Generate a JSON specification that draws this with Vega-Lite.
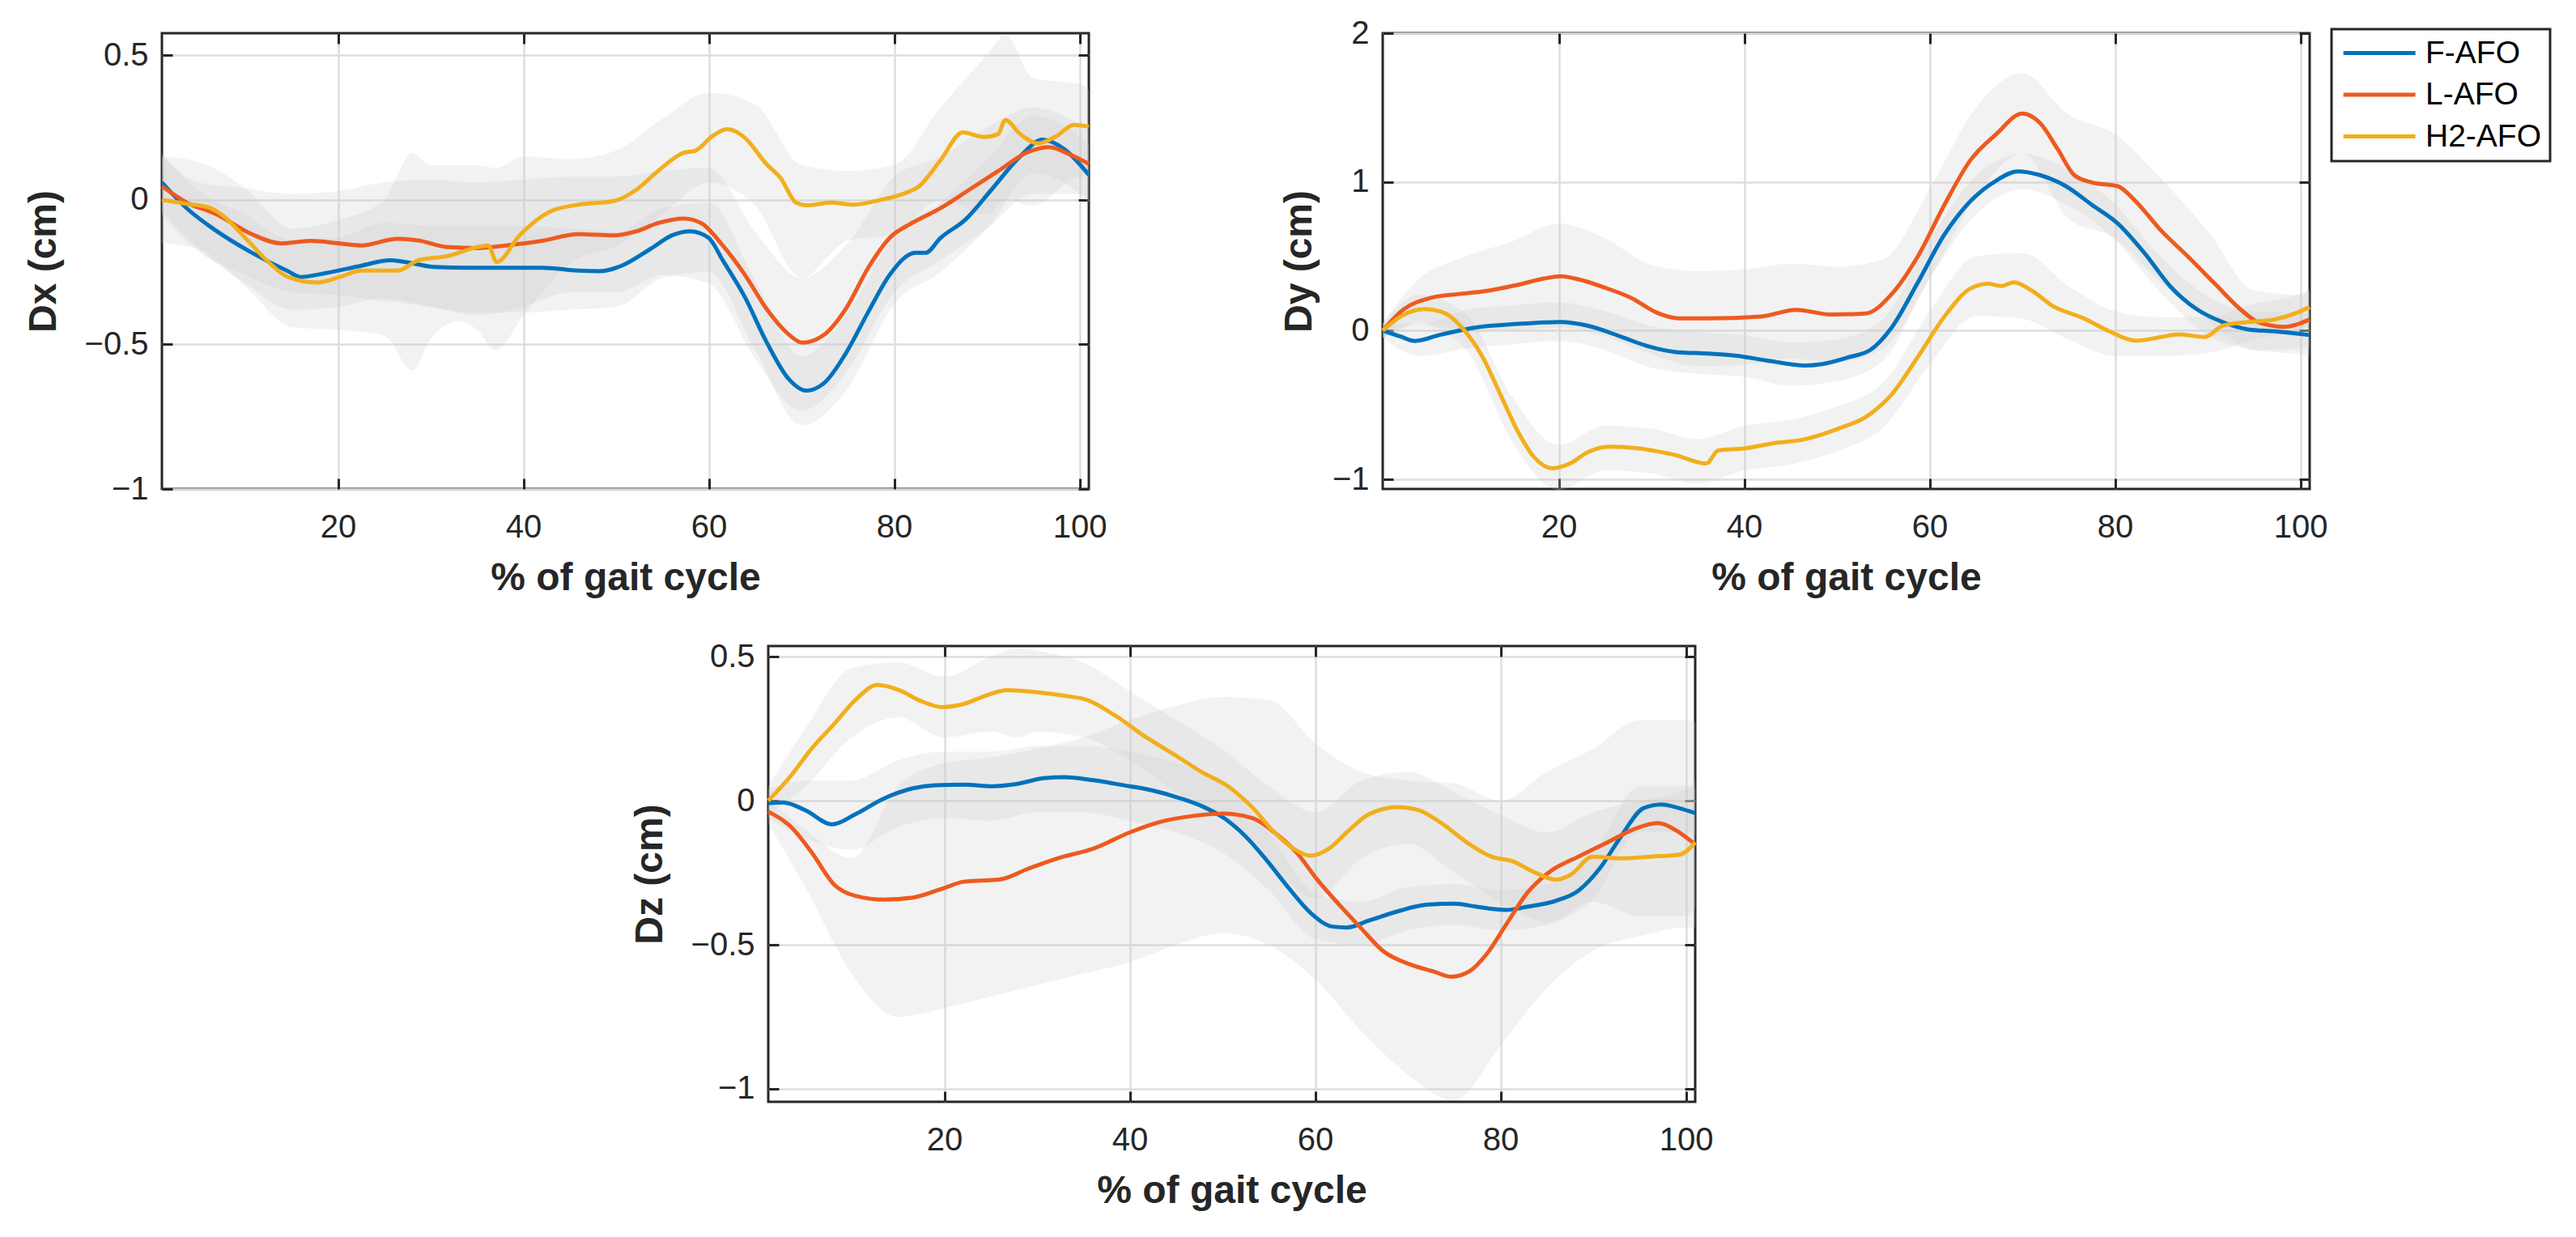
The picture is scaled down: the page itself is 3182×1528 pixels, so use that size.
{
  "$schema": "https://vega.github.io/schema/vega-lite/v6.json",
  "background": "white",
  "autosize": {"type": "none"},
  "padding": {"left": 200, "top": 41, "right": 2982, "bottom": 1487},
  "config": {
    "view": {"stroke": "#262626", "strokeWidth": 3},
    "axis": {
      "domain": false,
      "labelFont": "Liberation Sans", "labelFontSize": 40, "labelColor": "#262626",
      "titleFont": "Liberation Sans", "titleFontSize": 48, "titleFontWeight": "bold", "titleColor": "#262626",
      "tickColor": "#262626", "tickWidth": 3, "tickSize": -13,
      "gridColor": "#dedede", "gridWidth": 2.5, "gridOpacity": 1,
      "labelFlush": false, "labelOverlap": false, "format": "~r"
    },
    "axisX": {"labelPadding": 40},
    "axisY": {"labelPadding": 30},
    "legend": {"strokeWidth": 3},
    "line": {"strokeWidth": 5, "interpolate": "monotone", "clip": true},
    "area": {"interpolate": "monotone", "clip": true, "fill": "#cccccc", "fillOpacity": 0.25}
  },
  "datasets": {
    "lines": [
      {"p":"Dx","g":"F-AFO","x":1,"y":0.06},{"p":"Dx","g":"F-AFO","x":3.7,"y":-0.03},{"p":"Dx","g":"F-AFO","x":6.8,"y":-0.106},{"p":"Dx","g":"F-AFO","x":10.7,"y":-0.183},{"p":"Dx","g":"F-AFO","x":14.6,"y":-0.247},{"p":"Dx","g":"F-AFO","x":16,"y":-0.267},{"p":"Dx","g":"F-AFO","x":18.6,"y":-0.254},{"p":"Dx","g":"F-AFO","x":22.5,"y":-0.228},{"p":"Dx","g":"F-AFO","x":25.6,"y":-0.209},{"p":"Dx","g":"F-AFO","x":27.2,"y":-0.215},{"p":"Dx","g":"F-AFO","x":30.3,"y":-0.232},{"p":"Dx","g":"F-AFO","x":34.2,"y":-0.235},{"p":"Dx","g":"F-AFO","x":38.1,"y":-0.235},{"p":"Dx","g":"F-AFO","x":42,"y":-0.235},{"p":"Dx","g":"F-AFO","x":45.9,"y":-0.245},{"p":"Dx","g":"F-AFO","x":48.3,"y":-0.247},{"p":"Dx","g":"F-AFO","x":50.6,"y":-0.228},{"p":"Dx","g":"F-AFO","x":53.7,"y":-0.17},{"p":"Dx","g":"F-AFO","x":56.1,"y":-0.122},{"p":"Dx","g":"F-AFO","x":58,"y":-0.109},{"p":"Dx","g":"F-AFO","x":60,"y":-0.132},{"p":"Dx","g":"F-AFO","x":61.5,"y":-0.209},{"p":"Dx","g":"F-AFO","x":63.9,"y":-0.337},{"p":"Dx","g":"F-AFO","x":66.2,"y":-0.49},{"p":"Dx","g":"F-AFO","x":68.6,"y":-0.619},{"p":"Dx","g":"F-AFO","x":70.5,"y":-0.66},{"p":"Dx","g":"F-AFO","x":72.5,"y":-0.632},{"p":"Dx","g":"F-AFO","x":74.8,"y":-0.53},{"p":"Dx","g":"F-AFO","x":77.2,"y":-0.388},{"p":"Dx","g":"F-AFO","x":79.5,"y":-0.26},{"p":"Dx","g":"F-AFO","x":82.3,"y":-0.183},{"p":"Dx","g":"F-AFO","x":83.4,"y":-0.183},{"p":"Dx","g":"F-AFO","x":85,"y":-0.132},{"p":"Dx","g":"F-AFO","x":87.7,"y":-0.068},{"p":"Dx","g":"F-AFO","x":90.5,"y":0.035},{"p":"Dx","g":"F-AFO","x":93.6,"y":0.15},{"p":"Dx","g":"F-AFO","x":96,"y":0.208},{"p":"Dx","g":"F-AFO","x":98.3,"y":0.176},{"p":"Dx","g":"F-AFO","x":101,"y":0.086},
      {"p":"Dx","g":"L-AFO","x":1,"y":0.047},{"p":"Dx","g":"L-AFO","x":3.7,"y":-0.01},{"p":"Dx","g":"L-AFO","x":6.8,"y":-0.049},{"p":"Dx","g":"L-AFO","x":10.7,"y":-0.119},{"p":"Dx","g":"L-AFO","x":13.9,"y":-0.151},{"p":"Dx","g":"L-AFO","x":17,"y":-0.142},{"p":"Dx","g":"L-AFO","x":20.2,"y":-0.151},{"p":"Dx","g":"L-AFO","x":22.5,"y":-0.158},{"p":"Dx","g":"L-AFO","x":26.4,"y":-0.135},{"p":"Dx","g":"L-AFO","x":28.7,"y":-0.141},{"p":"Dx","g":"L-AFO","x":31.9,"y":-0.164},{"p":"Dx","g":"L-AFO","x":35,"y":-0.167},{"p":"Dx","g":"L-AFO","x":38.1,"y":-0.158},{"p":"Dx","g":"L-AFO","x":42,"y":-0.142},{"p":"Dx","g":"L-AFO","x":45.9,"y":-0.119},{"p":"Dx","g":"L-AFO","x":49.8,"y":-0.123},{"p":"Dx","g":"L-AFO","x":52.2,"y":-0.109},{"p":"Dx","g":"L-AFO","x":54.5,"y":-0.081},{"p":"Dx","g":"L-AFO","x":57.3,"y":-0.065},{"p":"Dx","g":"L-AFO","x":59.2,"y":-0.081},{"p":"Dx","g":"L-AFO","x":61.5,"y":-0.158},{"p":"Dx","g":"L-AFO","x":63.9,"y":-0.26},{"p":"Dx","g":"L-AFO","x":66.2,"y":-0.376},{"p":"Dx","g":"L-AFO","x":68.6,"y":-0.465},{"p":"Dx","g":"L-AFO","x":70.1,"y":-0.494},{"p":"Dx","g":"L-AFO","x":72.5,"y":-0.465},{"p":"Dx","g":"L-AFO","x":74.8,"y":-0.376},{"p":"Dx","g":"L-AFO","x":77.2,"y":-0.235},{"p":"Dx","g":"L-AFO","x":79.5,"y":-0.132},{"p":"Dx","g":"L-AFO","x":81.9,"y":-0.081},{"p":"Dx","g":"L-AFO","x":85,"y":-0.029},{"p":"Dx","g":"L-AFO","x":88.1,"y":0.035},{"p":"Dx","g":"L-AFO","x":91.2,"y":0.099},{"p":"Dx","g":"L-AFO","x":94.3,"y":0.163},{"p":"Dx","g":"L-AFO","x":96.7,"y":0.182},{"p":"Dx","g":"L-AFO","x":99,"y":0.156},{"p":"Dx","g":"L-AFO","x":101,"y":0.124},
      {"p":"Dx","g":"H2-AFO","x":1,"y":0},{"p":"Dx","g":"H2-AFO","x":3.7,"y":-0.014},{"p":"Dx","g":"H2-AFO","x":6.1,"y":-0.027},{"p":"Dx","g":"H2-AFO","x":7.6,"y":-0.055},{"p":"Dx","g":"H2-AFO","x":10,"y":-0.132},{"p":"Dx","g":"H2-AFO","x":12.3,"y":-0.209},{"p":"Dx","g":"H2-AFO","x":14.6,"y":-0.267},{"p":"Dx","g":"H2-AFO","x":17.8,"y":-0.286},{"p":"Dx","g":"H2-AFO","x":20.2,"y":-0.267},{"p":"Dx","g":"H2-AFO","x":22.5,"y":-0.245},{"p":"Dx","g":"H2-AFO","x":26.4,"y":-0.245},{"p":"Dx","g":"H2-AFO","x":28.7,"y":-0.209},{"p":"Dx","g":"H2-AFO","x":31.9,"y":-0.194},{"p":"Dx","g":"H2-AFO","x":35,"y":-0.164},{"p":"Dx","g":"H2-AFO","x":36.2,"y":-0.158},{"p":"Dx","g":"H2-AFO","x":37.1,"y":-0.215},{"p":"Dx","g":"H2-AFO","x":39.7,"y":-0.119},{"p":"Dx","g":"H2-AFO","x":42.8,"y":-0.042},{"p":"Dx","g":"H2-AFO","x":45.9,"y":-0.017},{"p":"Dx","g":"H2-AFO","x":49.8,"y":-0.004},{"p":"Dx","g":"H2-AFO","x":52.2,"y":0.035},{"p":"Dx","g":"H2-AFO","x":54.5,"y":0.099},{"p":"Dx","g":"H2-AFO","x":57.3,"y":0.163},{"p":"Dx","g":"H2-AFO","x":58.5,"y":0.169},{"p":"Dx","g":"H2-AFO","x":60.4,"y":0.22},{"p":"Dx","g":"H2-AFO","x":62,"y":0.244},{"p":"Dx","g":"H2-AFO","x":63.9,"y":0.214},{"p":"Dx","g":"H2-AFO","x":66.2,"y":0.124},{"p":"Dx","g":"H2-AFO","x":67.8,"y":0.073},{"p":"Dx","g":"H2-AFO","x":69.4,"y":-0.01},{"p":"Dx","g":"H2-AFO","x":70.5,"y":-0.019},{"p":"Dx","g":"H2-AFO","x":73.2,"y":-0.01},{"p":"Dx","g":"H2-AFO","x":75.6,"y":-0.017},{"p":"Dx","g":"H2-AFO","x":78,"y":-0.004},{"p":"Dx","g":"H2-AFO","x":81.1,"y":0.022},{"p":"Dx","g":"H2-AFO","x":82.7,"y":0.047},{"p":"Dx","g":"H2-AFO","x":85,"y":0.137},{"p":"Dx","g":"H2-AFO","x":87.4,"y":0.233},{"p":"Dx","g":"H2-AFO","x":89.7,"y":0.217},{"p":"Dx","g":"H2-AFO","x":91.2,"y":0.227},{"p":"Dx","g":"H2-AFO","x":92,"y":0.276},{"p":"Dx","g":"H2-AFO","x":93.6,"y":0.227},{"p":"Dx","g":"H2-AFO","x":95.5,"y":0.195},{"p":"Dx","g":"H2-AFO","x":97.5,"y":0.22},{"p":"Dx","g":"H2-AFO","x":99.4,"y":0.259},{"p":"Dx","g":"H2-AFO","x":101,"y":0.253},
      {"p":"Dy","g":"F-AFO","x":1,"y":0},{"p":"Dy","g":"F-AFO","x":2.9,"y":-0.04},{"p":"Dy","g":"F-AFO","x":4.5,"y":-0.07},{"p":"Dy","g":"F-AFO","x":7.1,"y":-0.03},{"p":"Dy","g":"F-AFO","x":10.9,"y":0.02},{"p":"Dy","g":"F-AFO","x":15.6,"y":0.045},{"p":"Dy","g":"F-AFO","x":20.2,"y":0.058},{"p":"Dy","g":"F-AFO","x":23.1,"y":0.033},{"p":"Dy","g":"F-AFO","x":26.8,"y":-0.043},{"p":"Dy","g":"F-AFO","x":29.6,"y":-0.105},{"p":"Dy","g":"F-AFO","x":32.5,"y":-0.143},{"p":"Dy","g":"F-AFO","x":36.2,"y":-0.155},{"p":"Dy","g":"F-AFO","x":39,"y":-0.168},{"p":"Dy","g":"F-AFO","x":42.8,"y":-0.205},{"p":"Dy","g":"F-AFO","x":46.5,"y":-0.235},{"p":"Dy","g":"F-AFO","x":48.4,"y":-0.225},{"p":"Dy","g":"F-AFO","x":51.2,"y":-0.18},{"p":"Dy","g":"F-AFO","x":53.6,"y":-0.13},{"p":"Dy","g":"F-AFO","x":55.9,"y":0.02},{"p":"Dy","g":"F-AFO","x":58.7,"y":0.32},{"p":"Dy","g":"F-AFO","x":61.6,"y":0.646},{"p":"Dy","g":"F-AFO","x":64.4,"y":0.87},{"p":"Dy","g":"F-AFO","x":67.2,"y":1.009},{"p":"Dy","g":"F-AFO","x":69.5,"y":1.071},{"p":"Dy","g":"F-AFO","x":71.9,"y":1.046},{"p":"Dy","g":"F-AFO","x":74.7,"y":0.971},{"p":"Dy","g":"F-AFO","x":77.5,"y":0.846},{"p":"Dy","g":"F-AFO","x":80.3,"y":0.72},{"p":"Dy","g":"F-AFO","x":83.2,"y":0.52},{"p":"Dy","g":"F-AFO","x":86,"y":0.295},{"p":"Dy","g":"F-AFO","x":88.8,"y":0.145},{"p":"Dy","g":"F-AFO","x":91.6,"y":0.058},{"p":"Dy","g":"F-AFO","x":94.4,"y":0.008},{"p":"Dy","g":"F-AFO","x":97.2,"y":-0.005},{"p":"Dy","g":"F-AFO","x":101,"y":-0.03},
      {"p":"Dy","g":"L-AFO","x":1,"y":0},{"p":"Dy","g":"L-AFO","x":3.3,"y":0.145},{"p":"Dy","g":"L-AFO","x":6.2,"y":0.22},{"p":"Dy","g":"L-AFO","x":9,"y":0.245},{"p":"Dy","g":"L-AFO","x":11.8,"y":0.263},{"p":"Dy","g":"L-AFO","x":15.6,"y":0.308},{"p":"Dy","g":"L-AFO","x":18.4,"y":0.35},{"p":"Dy","g":"L-AFO","x":20.2,"y":0.365},{"p":"Dy","g":"L-AFO","x":22.1,"y":0.345},{"p":"Dy","g":"L-AFO","x":24.9,"y":0.29},{"p":"Dy","g":"L-AFO","x":27.8,"y":0.22},{"p":"Dy","g":"L-AFO","x":30.6,"y":0.12},{"p":"Dy","g":"L-AFO","x":32.9,"y":0.083},{"p":"Dy","g":"L-AFO","x":36.2,"y":0.083},{"p":"Dy","g":"L-AFO","x":41.8,"y":0.095},{"p":"Dy","g":"L-AFO","x":45.6,"y":0.14},{"p":"Dy","g":"L-AFO","x":49.4,"y":0.108},{"p":"Dy","g":"L-AFO","x":53.1,"y":0.115},{"p":"Dy","g":"L-AFO","x":55.9,"y":0.245},{"p":"Dy","g":"L-AFO","x":58.7,"y":0.496},{"p":"Dy","g":"L-AFO","x":61.6,"y":0.846},{"p":"Dy","g":"L-AFO","x":64.4,"y":1.146},{"p":"Dy","g":"L-AFO","x":67.2,"y":1.322},{"p":"Dy","g":"L-AFO","x":70,"y":1.46},{"p":"Dy","g":"L-AFO","x":71.9,"y":1.397},{"p":"Dy","g":"L-AFO","x":73.8,"y":1.222},{"p":"Dy","g":"L-AFO","x":75.6,"y":1.046},{"p":"Dy","g":"L-AFO","x":77.5,"y":0.996},{"p":"Dy","g":"L-AFO","x":80.3,"y":0.971},{"p":"Dy","g":"L-AFO","x":82.2,"y":0.871},{"p":"Dy","g":"L-AFO","x":85,"y":0.671},{"p":"Dy","g":"L-AFO","x":87.9,"y":0.496},{"p":"Dy","g":"L-AFO","x":90.7,"y":0.32},{"p":"Dy","g":"L-AFO","x":93.5,"y":0.145},{"p":"Dy","g":"L-AFO","x":95.4,"y":0.058},{"p":"Dy","g":"L-AFO","x":98.2,"y":0.025},{"p":"Dy","g":"L-AFO","x":101,"y":0.075},
      {"p":"Dy","g":"H2-AFO","x":1,"y":0},{"p":"Dy","g":"H2-AFO","x":3.3,"y":0.108},{"p":"Dy","g":"H2-AFO","x":5.5,"y":0.145},{"p":"Dy","g":"H2-AFO","x":7.6,"y":0.12},{"p":"Dy","g":"H2-AFO","x":9.9,"y":-0.005},{"p":"Dy","g":"H2-AFO","x":11.8,"y":-0.18},{"p":"Dy","g":"H2-AFO","x":13.7,"y":-0.43},{"p":"Dy","g":"H2-AFO","x":15.6,"y":-0.681},{"p":"Dy","g":"H2-AFO","x":17.4,"y":-0.856},{"p":"Dy","g":"H2-AFO","x":19.3,"y":-0.926},{"p":"Dy","g":"H2-AFO","x":21.2,"y":-0.894},{"p":"Dy","g":"H2-AFO","x":23.1,"y":-0.819},{"p":"Dy","g":"H2-AFO","x":25.4,"y":-0.781},{"p":"Dy","g":"H2-AFO","x":28.7,"y":-0.793},{"p":"Dy","g":"H2-AFO","x":32.5,"y":-0.836},{"p":"Dy","g":"H2-AFO","x":35.9,"y":-0.894},{"p":"Dy","g":"H2-AFO","x":37.2,"y":-0.806},{"p":"Dy","g":"H2-AFO","x":40,"y":-0.793},{"p":"Dy","g":"H2-AFO","x":42.8,"y":-0.761},{"p":"Dy","g":"H2-AFO","x":46.5,"y":-0.731},{"p":"Dy","g":"H2-AFO","x":50.3,"y":-0.656},{"p":"Dy","g":"H2-AFO","x":53.1,"y":-0.581},{"p":"Dy","g":"H2-AFO","x":55.9,"y":-0.43},{"p":"Dy","g":"H2-AFO","x":58.7,"y":-0.18},{"p":"Dy","g":"H2-AFO","x":61.6,"y":0.095},{"p":"Dy","g":"H2-AFO","x":64.4,"y":0.283},{"p":"Dy","g":"H2-AFO","x":66.3,"y":0.315},{"p":"Dy","g":"H2-AFO","x":67.7,"y":0.3},{"p":"Dy","g":"H2-AFO","x":69.1,"y":0.325},{"p":"Dy","g":"H2-AFO","x":71,"y":0.27},{"p":"Dy","g":"H2-AFO","x":73.3,"y":0.165},{"p":"Dy","g":"H2-AFO","x":76.6,"y":0.083},{"p":"Dy","g":"H2-AFO","x":79.4,"y":-0.005},{"p":"Dy","g":"H2-AFO","x":82.2,"y":-0.068},{"p":"Dy","g":"H2-AFO","x":85,"y":-0.043},{"p":"Dy","g":"H2-AFO","x":86.9,"y":-0.025},{"p":"Dy","g":"H2-AFO","x":89.7,"y":-0.043},{"p":"Dy","g":"H2-AFO","x":91.6,"y":0.033},{"p":"Dy","g":"H2-AFO","x":94.4,"y":0.058},{"p":"Dy","g":"H2-AFO","x":97.2,"y":0.075},{"p":"Dy","g":"H2-AFO","x":99.6,"y":0.12},{"p":"Dy","g":"H2-AFO","x":101,"y":0.158},
      {"p":"Dz","g":"F-AFO","x":1,"y":-0.008},{"p":"Dz","g":"F-AFO","x":2.6,"y":-0.006},{"p":"Dz","g":"F-AFO","x":5,"y":-0.033},{"p":"Dz","g":"F-AFO","x":7.9,"y":-0.082},{"p":"Dz","g":"F-AFO","x":10.4,"y":-0.047},{"p":"Dz","g":"F-AFO","x":13.5,"y":0.008},{"p":"Dz","g":"F-AFO","x":16.6,"y":0.043},{"p":"Dz","g":"F-AFO","x":19,"y":0.054},{"p":"Dz","g":"F-AFO","x":22.1,"y":0.056},{"p":"Dz","g":"F-AFO","x":25.2,"y":0.05},{"p":"Dz","g":"F-AFO","x":27.6,"y":0.057},{"p":"Dz","g":"F-AFO","x":30.7,"y":0.078},{"p":"Dz","g":"F-AFO","x":33,"y":0.082},{"p":"Dz","g":"F-AFO","x":36.1,"y":0.071},{"p":"Dz","g":"F-AFO","x":39.3,"y":0.054},{"p":"Dz","g":"F-AFO","x":42.4,"y":0.036},{"p":"Dz","g":"F-AFO","x":45.5,"y":0.008},{"p":"Dz","g":"F-AFO","x":47.8,"y":-0.019},{"p":"Dz","g":"F-AFO","x":50.2,"y":-0.061},{"p":"Dz","g":"F-AFO","x":52.5,"y":-0.124},{"p":"Dz","g":"F-AFO","x":54.8,"y":-0.208},{"p":"Dz","g":"F-AFO","x":57.2,"y":-0.305},{"p":"Dz","g":"F-AFO","x":59.5,"y":-0.389},{"p":"Dz","g":"F-AFO","x":61.9,"y":-0.437},{"p":"Dz","g":"F-AFO","x":63.4,"y":-0.44},{"p":"Dz","g":"F-AFO","x":65.8,"y":-0.416},{"p":"Dz","g":"F-AFO","x":68.9,"y":-0.384},{"p":"Dz","g":"F-AFO","x":72,"y":-0.361},{"p":"Dz","g":"F-AFO","x":75.1,"y":-0.357},{"p":"Dz","g":"F-AFO","x":77.4,"y":-0.368},{"p":"Dz","g":"F-AFO","x":80.6,"y":-0.379},{"p":"Dz","g":"F-AFO","x":82.9,"y":-0.368},{"p":"Dz","g":"F-AFO","x":86,"y":-0.347},{"p":"Dz","g":"F-AFO","x":88.4,"y":-0.312},{"p":"Dz","g":"F-AFO","x":90.7,"y":-0.235},{"p":"Dz","g":"F-AFO","x":93,"y":-0.124},{"p":"Dz","g":"F-AFO","x":95.4,"y":-0.026},{"p":"Dz","g":"F-AFO","x":97.3,"y":-0.013},{"p":"Dz","g":"F-AFO","x":99.3,"y":-0.026},{"p":"Dz","g":"F-AFO","x":101,"y":-0.043},
      {"p":"Dz","g":"L-AFO","x":1,"y":-0.038},{"p":"Dz","g":"L-AFO","x":3.4,"y":-0.089},{"p":"Dz","g":"L-AFO","x":5.7,"y":-0.18},{"p":"Dz","g":"L-AFO","x":8.1,"y":-0.291},{"p":"Dz","g":"L-AFO","x":10.4,"y":-0.33},{"p":"Dz","g":"L-AFO","x":13.5,"y":-0.343},{"p":"Dz","g":"L-AFO","x":16.6,"y":-0.336},{"p":"Dz","g":"L-AFO","x":19.8,"y":-0.305},{"p":"Dz","g":"L-AFO","x":22.1,"y":-0.281},{"p":"Dz","g":"L-AFO","x":26,"y":-0.273},{"p":"Dz","g":"L-AFO","x":29.1,"y":-0.235},{"p":"Dz","g":"L-AFO","x":32.2,"y":-0.2},{"p":"Dz","g":"L-AFO","x":36.1,"y":-0.166},{"p":"Dz","g":"L-AFO","x":40,"y":-0.11},{"p":"Dz","g":"L-AFO","x":43.1,"y":-0.075},{"p":"Dz","g":"L-AFO","x":47,"y":-0.052},{"p":"Dz","g":"L-AFO","x":50.2,"y":-0.045},{"p":"Dz","g":"L-AFO","x":53.3,"y":-0.061},{"p":"Dz","g":"L-AFO","x":55.6,"y":-0.11},{"p":"Dz","g":"L-AFO","x":58,"y":-0.18},{"p":"Dz","g":"L-AFO","x":60.3,"y":-0.277},{"p":"Dz","g":"L-AFO","x":62.6,"y":-0.361},{"p":"Dz","g":"L-AFO","x":65,"y":-0.444},{"p":"Dz","g":"L-AFO","x":67.3,"y":-0.521},{"p":"Dz","g":"L-AFO","x":70.4,"y":-0.57},{"p":"Dz","g":"L-AFO","x":72.8,"y":-0.593},{"p":"Dz","g":"L-AFO","x":74.7,"y":-0.611},{"p":"Dz","g":"L-AFO","x":76.7,"y":-0.591},{"p":"Dz","g":"L-AFO","x":78.6,"y":-0.528},{"p":"Dz","g":"L-AFO","x":80.6,"y":-0.43},{"p":"Dz","g":"L-AFO","x":82.9,"y":-0.319},{"p":"Dz","g":"L-AFO","x":85.2,"y":-0.249},{"p":"Dz","g":"L-AFO","x":88.4,"y":-0.194},{"p":"Dz","g":"L-AFO","x":91.5,"y":-0.145},{"p":"Dz","g":"L-AFO","x":94.6,"y":-0.096},{"p":"Dz","g":"L-AFO","x":96.9,"y":-0.078},{"p":"Dz","g":"L-AFO","x":99.3,"y":-0.11},{"p":"Dz","g":"L-AFO","x":101,"y":-0.152},
      {"p":"Dz","g":"H2-AFO","x":1,"y":0},{"p":"Dz","g":"H2-AFO","x":3.4,"y":0.085},{"p":"Dz","g":"H2-AFO","x":5.7,"y":0.182},{"p":"Dz","g":"H2-AFO","x":8.1,"y":0.266},{"p":"Dz","g":"H2-AFO","x":10.4,"y":0.35},{"p":"Dz","g":"H2-AFO","x":12.8,"y":0.402},{"p":"Dz","g":"H2-AFO","x":15.1,"y":0.384},{"p":"Dz","g":"H2-AFO","x":17.4,"y":0.347},{"p":"Dz","g":"H2-AFO","x":19.8,"y":0.325},{"p":"Dz","g":"H2-AFO","x":22.1,"y":0.336},{"p":"Dz","g":"H2-AFO","x":24.4,"y":0.364},{"p":"Dz","g":"H2-AFO","x":26.8,"y":0.384},{"p":"Dz","g":"H2-AFO","x":29.9,"y":0.377},{"p":"Dz","g":"H2-AFO","x":33,"y":0.364},{"p":"Dz","g":"H2-AFO","x":35.4,"y":0.35},{"p":"Dz","g":"H2-AFO","x":38.5,"y":0.294},{"p":"Dz","g":"H2-AFO","x":41.6,"y":0.224},{"p":"Dz","g":"H2-AFO","x":44.7,"y":0.162},{"p":"Dz","g":"H2-AFO","x":47.8,"y":0.099},{"p":"Dz","g":"H2-AFO","x":50.6,"y":0.05},{"p":"Dz","g":"H2-AFO","x":53.3,"y":-0.026},{"p":"Dz","g":"H2-AFO","x":55.6,"y":-0.11},{"p":"Dz","g":"H2-AFO","x":58,"y":-0.173},{"p":"Dz","g":"H2-AFO","x":59.5,"y":-0.191},{"p":"Dz","g":"H2-AFO","x":61.5,"y":-0.166},{"p":"Dz","g":"H2-AFO","x":63.4,"y":-0.11},{"p":"Dz","g":"H2-AFO","x":65.8,"y":-0.047},{"p":"Dz","g":"H2-AFO","x":68.9,"y":-0.022},{"p":"Dz","g":"H2-AFO","x":71.2,"y":-0.033},{"p":"Dz","g":"H2-AFO","x":73.5,"y":-0.075},{"p":"Dz","g":"H2-AFO","x":76.7,"y":-0.152},{"p":"Dz","g":"H2-AFO","x":79,"y":-0.194},{"p":"Dz","g":"H2-AFO","x":81.3,"y":-0.21},{"p":"Dz","g":"H2-AFO","x":83.7,"y":-0.249},{"p":"Dz","g":"H2-AFO","x":86,"y":-0.274},{"p":"Dz","g":"H2-AFO","x":87.6,"y":-0.256},{"p":"Dz","g":"H2-AFO","x":89.9,"y":-0.194},{"p":"Dz","g":"H2-AFO","x":93,"y":-0.2},{"p":"Dz","g":"H2-AFO","x":96.2,"y":-0.194},{"p":"Dz","g":"H2-AFO","x":99.3,"y":-0.187},{"p":"Dz","g":"H2-AFO","x":101,"y":-0.145}
    ],
    "bands": [
      {"p":"Dx","g":"F-AFO","x":1,"lo":-0.04,"hi":0.16},{"p":"Dx","g":"F-AFO","x":5,"lo":-0.17,"hi":0.03},{"p":"Dx","g":"F-AFO","x":10,"lo":-0.29,"hi":-0.05},{"p":"Dx","g":"F-AFO","x":15,"lo":-0.38,"hi":-0.14},{"p":"Dx","g":"F-AFO","x":20,"lo":-0.37,"hi":-0.13},{"p":"Dx","g":"F-AFO","x":25,"lo":-0.34,"hi":-0.08},{"p":"Dx","g":"F-AFO","x":30,"lo":-0.37,"hi":-0.09},{"p":"Dx","g":"F-AFO","x":35,"lo":-0.39,"hi":-0.09},{"p":"Dx","g":"F-AFO","x":40,"lo":-0.39,"hi":-0.09},{"p":"Dx","g":"F-AFO","x":45,"lo":-0.38,"hi":-0.1},{"p":"Dx","g":"F-AFO","x":50,"lo":-0.37,"hi":-0.11},{"p":"Dx","g":"F-AFO","x":55,"lo":-0.27,"hi":-0.03},{"p":"Dx","g":"F-AFO","x":60,"lo":-0.25,"hi":-0.01},{"p":"Dx","g":"F-AFO","x":65,"lo":-0.52,"hi":-0.28},{"p":"Dx","g":"F-AFO","x":70,"lo":-0.78,"hi":-0.54},{"p":"Dx","g":"F-AFO","x":75,"lo":-0.65,"hi":-0.39},{"p":"Dx","g":"F-AFO","x":80,"lo":-0.36,"hi":-0.12},{"p":"Dx","g":"F-AFO","x":85,"lo":-0.25,"hi":-0.01},{"p":"Dx","g":"F-AFO","x":90,"lo":-0.1,"hi":0.14},{"p":"Dx","g":"F-AFO","x":95,"lo":0.09,"hi":0.29},{"p":"Dx","g":"F-AFO","x":100,"lo":0.02,"hi":0.22},{"p":"Dx","g":"F-AFO","x":101,"lo":-0.01,"hi":0.19},
      {"p":"Dx","g":"L-AFO","x":1,"lo":-0.05,"hi":0.15},{"p":"Dx","g":"L-AFO","x":5,"lo":-0.18,"hi":0.06},{"p":"Dx","g":"L-AFO","x":10,"lo":-0.26,"hi":0.04},{"p":"Dx","g":"L-AFO","x":15,"lo":-0.32,"hi":0.02},{"p":"Dx","g":"L-AFO","x":20,"lo":-0.33,"hi":0.03},{"p":"Dx","g":"L-AFO","x":25,"lo":-0.35,"hi":0.06},{"p":"Dx","g":"L-AFO","x":30,"lo":-0.37,"hi":0.07},{"p":"Dx","g":"L-AFO","x":35,"lo":-0.4,"hi":0.06},{"p":"Dx","g":"L-AFO","x":40,"lo":-0.37,"hi":0.07},{"p":"Dx","g":"L-AFO","x":45,"lo":-0.32,"hi":0.08},{"p":"Dx","g":"L-AFO","x":50,"lo":-0.32,"hi":0.08},{"p":"Dx","g":"L-AFO","x":55,"lo":-0.26,"hi":0.1},{"p":"Dx","g":"L-AFO","x":60,"lo":-0.29,"hi":0.11},{"p":"Dx","g":"L-AFO","x":65,"lo":-0.55,"hi":-0.11},{"p":"Dx","g":"L-AFO","x":70,"lo":-0.73,"hi":-0.27},{"p":"Dx","g":"L-AFO","x":75,"lo":-0.59,"hi":-0.15},{"p":"Dx","g":"L-AFO","x":80,"lo":-0.32,"hi":0.08},{"p":"Dx","g":"L-AFO","x":85,"lo":-0.21,"hi":0.15},{"p":"Dx","g":"L-AFO","x":90,"lo":-0.1,"hi":0.25},{"p":"Dx","g":"L-AFO","x":95,"lo":0.02,"hi":0.32},{"p":"Dx","g":"L-AFO","x":100,"lo":0.02,"hi":0.26},{"p":"Dx","g":"L-AFO","x":101,"lo":0,"hi":0.24},
      {"p":"Dx","g":"H2-AFO","x":1,"lo":-0.15,"hi":0.15},{"p":"Dx","g":"H2-AFO","x":5,"lo":-0.17,"hi":0.13},{"p":"Dx","g":"H2-AFO","x":10,"lo":-0.3,"hi":0.04},{"p":"Dx","g":"H2-AFO","x":15,"lo":-0.44,"hi":-0.1},{"p":"Dx","g":"H2-AFO","x":20,"lo":-0.45,"hi":-0.07},{"p":"Dx","g":"H2-AFO","x":25,"lo":-0.47,"hi":0},{"p":"Dx","g":"H2-AFO","x":28,"lo":-0.59,"hi":0.16},{"p":"Dx","g":"H2-AFO","x":30,"lo":-0.48,"hi":0.12},{"p":"Dx","g":"H2-AFO","x":33,"lo":-0.42,"hi":0.12},{"p":"Dx","g":"H2-AFO","x":35,"lo":-0.45,"hi":0.12},{"p":"Dx","g":"H2-AFO","x":37,"lo":-0.52,"hi":0.11},{"p":"Dx","g":"H2-AFO","x":40,"lo":-0.4,"hi":0.15},{"p":"Dx","g":"H2-AFO","x":45,"lo":-0.22,"hi":0.14},{"p":"Dx","g":"H2-AFO","x":50,"lo":-0.16,"hi":0.17},{"p":"Dx","g":"H2-AFO","x":55,"lo":-0.05,"hi":0.28},{"p":"Dx","g":"H2-AFO","x":60,"lo":0.06,"hi":0.37},{"p":"Dx","g":"H2-AFO","x":65,"lo":-0.02,"hi":0.33},{"p":"Dx","g":"H2-AFO","x":70,"lo":-0.27,"hi":0.12},{"p":"Dx","g":"H2-AFO","x":75,"lo":-0.14,"hi":0.1},{"p":"Dx","g":"H2-AFO","x":80,"lo":-0.12,"hi":0.12},{"p":"Dx","g":"H2-AFO","x":85,"lo":0,"hi":0.32},{"p":"Dx","g":"H2-AFO","x":90,"lo":-0.05,"hi":0.5},{"p":"Dx","g":"H2-AFO","x":92,"lo":0,"hi":0.57},{"p":"Dx","g":"H2-AFO","x":95,"lo":-0.02,"hi":0.42},{"p":"Dx","g":"H2-AFO","x":100,"lo":0.08,"hi":0.4},{"p":"Dx","g":"H2-AFO","x":101,"lo":0.08,"hi":0.38},
      {"p":"Dy","g":"F-AFO","x":1,"lo":-0.05,"hi":0.05},{"p":"Dy","g":"F-AFO","x":5,"lo":-0.17,"hi":0.04},{"p":"Dy","g":"F-AFO","x":10,"lo":-0.12,"hi":0.14},{"p":"Dy","g":"F-AFO","x":15,"lo":-0.09,"hi":0.17},{"p":"Dy","g":"F-AFO","x":20,"lo":-0.07,"hi":0.19},{"p":"Dy","g":"F-AFO","x":25,"lo":-0.13,"hi":0.13},{"p":"Dy","g":"F-AFO","x":30,"lo":-0.25,"hi":0.03},{"p":"Dy","g":"F-AFO","x":35,"lo":-0.29,"hi":-0.01},{"p":"Dy","g":"F-AFO","x":40,"lo":-0.31,"hi":-0.03},{"p":"Dy","g":"F-AFO","x":45,"lo":-0.37,"hi":-0.08},{"p":"Dy","g":"F-AFO","x":50,"lo":-0.34,"hi":-0.06},{"p":"Dy","g":"F-AFO","x":55,"lo":-0.2,"hi":0.08},{"p":"Dy","g":"F-AFO","x":60,"lo":0.35,"hi":0.61},{"p":"Dy","g":"F-AFO","x":65,"lo":0.78,"hi":1.04},{"p":"Dy","g":"F-AFO","x":70,"lo":0.95,"hi":1.19},{"p":"Dy","g":"F-AFO","x":75,"lo":0.84,"hi":1.08},{"p":"Dy","g":"F-AFO","x":80,"lo":0.61,"hi":0.85},{"p":"Dy","g":"F-AFO","x":85,"lo":0.25,"hi":0.49},{"p":"Dy","g":"F-AFO","x":90,"lo":-0.03,"hi":0.23},{"p":"Dy","g":"F-AFO","x":95,"lo":-0.13,"hi":0.13},{"p":"Dy","g":"F-AFO","x":100,"lo":-0.16,"hi":0.12},{"p":"Dy","g":"F-AFO","x":101,"lo":-0.17,"hi":0.11},
      {"p":"Dy","g":"L-AFO","x":1,"lo":-0.05,"hi":0.05},{"p":"Dy","g":"L-AFO","x":5,"lo":0.05,"hi":0.35},{"p":"Dy","g":"L-AFO","x":10,"lo":0,"hi":0.5},{"p":"Dy","g":"L-AFO","x":15,"lo":0,"hi":0.6},{"p":"Dy","g":"L-AFO","x":20,"lo":0.02,"hi":0.72},{"p":"Dy","g":"L-AFO","x":25,"lo":-0.04,"hi":0.62},{"p":"Dy","g":"L-AFO","x":30,"lo":-0.16,"hi":0.44},{"p":"Dy","g":"L-AFO","x":35,"lo":-0.24,"hi":0.4},{"p":"Dy","g":"L-AFO","x":40,"lo":-0.23,"hi":0.41},{"p":"Dy","g":"L-AFO","x":45,"lo":-0.19,"hi":0.45},{"p":"Dy","g":"L-AFO","x":50,"lo":-0.21,"hi":0.43},{"p":"Dy","g":"L-AFO","x":55,"lo":-0.12,"hi":0.48},{"p":"Dy","g":"L-AFO","x":60,"lo":0.35,"hi":0.95},{"p":"Dy","g":"L-AFO","x":65,"lo":0.9,"hi":1.5},{"p":"Dy","g":"L-AFO","x":70,"lo":1.19,"hi":1.73},{"p":"Dy","g":"L-AFO","x":75,"lo":0.75,"hi":1.45},{"p":"Dy","g":"L-AFO","x":80,"lo":0.62,"hi":1.32},{"p":"Dy","g":"L-AFO","x":85,"lo":0.32,"hi":1.02},{"p":"Dy","g":"L-AFO","x":90,"lo":0.07,"hi":0.67},{"p":"Dy","g":"L-AFO","x":95,"lo":-0.13,"hi":0.27},{"p":"Dy","g":"L-AFO","x":100,"lo":-0.12,"hi":0.24},{"p":"Dy","g":"L-AFO","x":101,"lo":-0.11,"hi":0.26},
      {"p":"Dy","g":"H2-AFO","x":1,"lo":-0.05,"hi":0.05},{"p":"Dy","g":"H2-AFO","x":5,"lo":0.04,"hi":0.24},{"p":"Dy","g":"H2-AFO","x":10,"lo":-0.13,"hi":0.11},{"p":"Dy","g":"H2-AFO","x":15,"lo":-0.75,"hi":-0.45},{"p":"Dy","g":"H2-AFO","x":20,"lo":-1.07,"hi":-0.77},{"p":"Dy","g":"H2-AFO","x":25,"lo":-0.94,"hi":-0.64},{"p":"Dy","g":"H2-AFO","x":30,"lo":-0.96,"hi":-0.66},{"p":"Dy","g":"H2-AFO","x":35,"lo":-1.03,"hi":-0.73},{"p":"Dy","g":"H2-AFO","x":40,"lo":-0.94,"hi":-0.64},{"p":"Dy","g":"H2-AFO","x":45,"lo":-0.9,"hi":-0.6},{"p":"Dy","g":"H2-AFO","x":50,"lo":-0.81,"hi":-0.51},{"p":"Dy","g":"H2-AFO","x":55,"lo":-0.65,"hi":-0.35},{"p":"Dy","g":"H2-AFO","x":60,"lo":-0.23,"hi":0.13},{"p":"Dy","g":"H2-AFO","x":65,"lo":0.1,"hi":0.5},{"p":"Dy","g":"H2-AFO","x":70,"lo":0.08,"hi":0.52},{"p":"Dy","g":"H2-AFO","x":75,"lo":-0.06,"hi":0.3},{"p":"Dy","g":"H2-AFO","x":80,"lo":-0.17,"hi":0.13},{"p":"Dy","g":"H2-AFO","x":85,"lo":-0.17,"hi":0.09},{"p":"Dy","g":"H2-AFO","x":90,"lo":-0.15,"hi":0.09},{"p":"Dy","g":"H2-AFO","x":95,"lo":-0.06,"hi":0.18},{"p":"Dy","g":"H2-AFO","x":100,"lo":0.01,"hi":0.25},{"p":"Dy","g":"H2-AFO","x":101,"lo":0.04,"hi":0.28},
      {"p":"Dz","g":"F-AFO","x":1,"lo":-0.06,"hi":0.04},{"p":"Dz","g":"F-AFO","x":5,"lo":-0.13,"hi":0.07},{"p":"Dz","g":"F-AFO","x":10,"lo":-0.17,"hi":0.07},{"p":"Dz","g":"F-AFO","x":15,"lo":-0.09,"hi":0.14},{"p":"Dz","g":"F-AFO","x":20,"lo":-0.06,"hi":0.17},{"p":"Dz","g":"F-AFO","x":25,"lo":-0.07,"hi":0.17},{"p":"Dz","g":"F-AFO","x":30,"lo":-0.04,"hi":0.19},{"p":"Dz","g":"F-AFO","x":35,"lo":-0.04,"hi":0.19},{"p":"Dz","g":"F-AFO","x":40,"lo":-0.07,"hi":0.17},{"p":"Dz","g":"F-AFO","x":45,"lo":-0.11,"hi":0.13},{"p":"Dz","g":"F-AFO","x":50,"lo":-0.18,"hi":0.06},{"p":"Dz","g":"F-AFO","x":55,"lo":-0.31,"hi":-0.11},{"p":"Dz","g":"F-AFO","x":60,"lo":-0.48,"hi":-0.32},{"p":"Dz","g":"F-AFO","x":65,"lo":-0.5,"hi":-0.35},{"p":"Dz","g":"F-AFO","x":70,"lo":-0.45,"hi":-0.3},{"p":"Dz","g":"F-AFO","x":75,"lo":-0.43,"hi":-0.29},{"p":"Dz","g":"F-AFO","x":80,"lo":-0.45,"hi":-0.31},{"p":"Dz","g":"F-AFO","x":85,"lo":-0.43,"hi":-0.29},{"p":"Dz","g":"F-AFO","x":90,"lo":-0.34,"hi":-0.18},{"p":"Dz","g":"F-AFO","x":95,"lo":-0.11,"hi":0.05},{"p":"Dz","g":"F-AFO","x":100,"lo":-0.11,"hi":0.05},{"p":"Dz","g":"F-AFO","x":101,"lo":-0.12,"hi":0.04},
      {"p":"Dz","g":"L-AFO","x":1,"lo":-0.08,"hi":0},{"p":"Dz","g":"L-AFO","x":5,"lo":-0.3,"hi":-0.1},{"p":"Dz","g":"L-AFO","x":10,"lo":-0.6,"hi":-0.2},{"p":"Dz","g":"L-AFO","x":15,"lo":-0.75,"hi":0.05},{"p":"Dz","g":"L-AFO","x":20,"lo":-0.72,"hi":0.13},{"p":"Dz","g":"L-AFO","x":25,"lo":-0.68,"hi":0.15},{"p":"Dz","g":"L-AFO","x":30,"lo":-0.64,"hi":0.18},{"p":"Dz","g":"L-AFO","x":35,"lo":-0.6,"hi":0.22},{"p":"Dz","g":"L-AFO","x":40,"lo":-0.56,"hi":0.28},{"p":"Dz","g":"L-AFO","x":45,"lo":-0.5,"hi":0.33},{"p":"Dz","g":"L-AFO","x":50,"lo":-0.46,"hi":0.36},{"p":"Dz","g":"L-AFO","x":55,"lo":-0.5,"hi":0.35},{"p":"Dz","g":"L-AFO","x":60,"lo":-0.62,"hi":0.2},{"p":"Dz","g":"L-AFO","x":65,"lo":-0.8,"hi":0.1},{"p":"Dz","g":"L-AFO","x":70,"lo":-0.95,"hi":0.07},{"p":"Dz","g":"L-AFO","x":75,"lo":-1.04,"hi":0.06},{"p":"Dz","g":"L-AFO","x":80,"lo":-0.85,"hi":0},{"p":"Dz","g":"L-AFO","x":85,"lo":-0.65,"hi":0.1},{"p":"Dz","g":"L-AFO","x":90,"lo":-0.52,"hi":0.18},{"p":"Dz","g":"L-AFO","x":95,"lo":-0.47,"hi":0.28},{"p":"Dz","g":"L-AFO","x":100,"lo":-0.44,"hi":0.28},{"p":"Dz","g":"L-AFO","x":101,"lo":-0.44,"hi":0.27},
      {"p":"Dz","g":"H2-AFO","x":1,"lo":-0.05,"hi":0.05},{"p":"Dz","g":"H2-AFO","x":5,"lo":0.05,"hi":0.25},{"p":"Dz","g":"H2-AFO","x":10,"lo":0.22,"hi":0.46},{"p":"Dz","g":"H2-AFO","x":15,"lo":0.29,"hi":0.48},{"p":"Dz","g":"H2-AFO","x":20,"lo":0.22,"hi":0.43},{"p":"Dz","g":"H2-AFO","x":25,"lo":0.24,"hi":0.5},{"p":"Dz","g":"H2-AFO","x":28,"lo":0.22,"hi":0.53},{"p":"Dz","g":"H2-AFO","x":30,"lo":0.24,"hi":0.52},{"p":"Dz","g":"H2-AFO","x":35,"lo":0.22,"hi":0.48},{"p":"Dz","g":"H2-AFO","x":40,"lo":0.14,"hi":0.38},{"p":"Dz","g":"H2-AFO","x":45,"lo":0.03,"hi":0.28},{"p":"Dz","g":"H2-AFO","x":50,"lo":-0.06,"hi":0.18},{"p":"Dz","g":"H2-AFO","x":55,"lo":-0.21,"hi":0.05},{"p":"Dz","g":"H2-AFO","x":60,"lo":-0.34,"hi":-0.04},{"p":"Dz","g":"H2-AFO","x":65,"lo":-0.2,"hi":0.07},{"p":"Dz","g":"H2-AFO","x":70,"lo":-0.15,"hi":0.1},{"p":"Dz","g":"H2-AFO","x":75,"lo":-0.25,"hi":0.03},{"p":"Dz","g":"H2-AFO","x":80,"lo":-0.35,"hi":-0.05},{"p":"Dz","g":"H2-AFO","x":85,"lo":-0.42,"hi":-0.11},{"p":"Dz","g":"H2-AFO","x":90,"lo":-0.35,"hi":-0.04},{"p":"Dz","g":"H2-AFO","x":95,"lo":-0.4,"hi":0},{"p":"Dz","g":"H2-AFO","x":100,"lo":-0.4,"hi":0.04},{"p":"Dz","g":"H2-AFO","x":101,"lo":-0.37,"hi":0.07}
    ]
  },
  "spacing": 49,
  "resolve": {"scale": {"color": "independent"}},
  "vconcat": [
    {
      "bounds": "flush",
      "spacing": 363,
      "resolve": {"scale": {"color": "independent"}},
      "hconcat": [
        {
          "width": 1145,
          "height": 563,
          "layer": [
            {
              "data": {"name": "bands"},
              "transform": [{"filter": "datum.p === 'Dx'"}],
              "mark": "area",
              "encoding": {
                "x": {"field": "x", "type": "quantitative", "scale": {"domain": [1, 101], "nice": false, "zero": false},
                  "axis": {"orient": "bottom", "values": [20, 40, 60, 80, 100], "title": "% of gait cycle", "titleX": 572.5, "titleY": 124, "titleBaseline": "alphabetic", "titleAlign": "center"}},
                "y": {"field": "lo", "type": "quantitative", "scale": {"domain": [-1, 0.576], "nice": false, "zero": false},
                  "axis": {"orient": "left", "values": [-1, -0.5, 0, 0.5], "title": "Dx (cm)", "titleX": -131.5, "titleY": 281.5, "titleBaseline": "alphabetic", "titleAlign": "center", "titleAngle": -90}},
                "y2": {"field": "hi"},
                "detail": {"field": "g"}
              }
            },
            {
              "data": {"name": "lines"},
              "transform": [{"filter": "datum.p === 'Dx'"}],
              "mark": "line",
              "encoding": {
                "x": {"field": "x", "type": "quantitative", "scale": {"domain": [1, 101], "nice": false, "zero": false},
                  "axis": {"orient": "top", "values": [20, 40, 60, 80, 100], "labels": false, "title": null, "grid": false}},
                "y": {"field": "y", "type": "quantitative", "scale": {"domain": [-1, 0.576], "nice": false, "zero": false},
                  "axis": {"orient": "right", "values": [-1, -0.5, 0, 0.5], "labels": false, "title": null, "grid": false}},
                "color": {"field": "g", "type": "nominal", "scale": {"domain": ["F-AFO", "L-AFO", "H2-AFO"], "range": ["#0072BD", "#EE5A1E", "#F2AE1C"]}, "legend": null}
              }
            }
          ]
        },
        {
          "width": 1145,
          "height": 563,
          "layer": [
            {
              "data": {"name": "bands"},
              "transform": [{"filter": "datum.p === 'Dy'"}],
              "mark": "area",
              "encoding": {
                "x": {"field": "x", "type": "quantitative", "scale": {"domain": [1, 101], "nice": false, "zero": false},
                  "axis": {"orient": "bottom", "values": [20, 40, 60, 80, 100], "title": "% of gait cycle", "titleX": 572.5, "titleY": 124, "titleBaseline": "alphabetic", "titleAlign": "center"}},
                "y": {"field": "lo", "type": "quantitative", "scale": {"domain": [-1.065, 2], "nice": false, "zero": false},
                  "axis": {"orient": "left", "values": [-1, 0, 1, 2], "title": "Dy (cm)", "titleX": -89, "titleY": 281.5, "titleBaseline": "alphabetic", "titleAlign": "center", "titleAngle": -90}},
                "y2": {"field": "hi"},
                "detail": {"field": "g"}
              }
            },
            {
              "data": {"name": "lines"},
              "transform": [{"filter": "datum.p === 'Dy'"}],
              "mark": "line",
              "encoding": {
                "x": {"field": "x", "type": "quantitative", "scale": {"domain": [1, 101], "nice": false, "zero": false},
                  "axis": {"orient": "top", "values": [20, 40, 60, 80, 100], "labels": false, "title": null, "grid": false}},
                "y": {"field": "y", "type": "quantitative", "scale": {"domain": [-1.065, 2], "nice": false, "zero": false},
                  "axis": {"orient": "right", "values": [-1, 0, 1, 2], "labels": false, "title": null, "grid": false}},
                "color": {"field": "g", "type": "nominal", "scale": {"domain": ["F-AFO", "L-AFO", "H2-AFO"], "range": ["#0072BD", "#EE5A1E", "#F2AE1C"]},
                  "legend": {"title": null, "orient": "none", "legendX": 1172, "legendY": -5, "direction": "vertical",
                    "strokeColor": "#262626", "fillColor": "white", "padding": 10,
                    "symbolType": "M-1,0H5", "symbolSize": 880, "symbolStrokeWidth": 6,
                    "labelFont": "Liberation Sans", "labelFontSize": 39, "labelColor": "black", "labelOffset": 67, "rowPadding": 11.5}}
              }
            }
          ]
        }
      ]
    },
    {
      "bounds": "flush",
      "spacing": 0,
      "resolve": {"scale": {"color": "independent"}},
      "hconcat": [
        {
          "width": 749,
          "height": 563,
          "view": {"stroke": null},
          "data": {"values": []},
          "mark": "point"
        },
        {
          "width": 1145,
          "height": 563,
          "layer": [
            {
              "data": {"name": "bands"},
              "transform": [{"filter": "datum.p === 'Dz'"}],
              "mark": "area",
              "encoding": {
                "x": {"field": "x", "type": "quantitative", "scale": {"domain": [1, 101], "nice": false, "zero": false},
                  "axis": {"orient": "bottom", "values": [20, 40, 60, 80, 100], "title": "% of gait cycle", "titleX": 572.5, "titleY": 124, "titleBaseline": "alphabetic", "titleAlign": "center"}},
                "y": {"field": "lo", "type": "quantitative", "scale": {"domain": [-1.045, 0.537], "nice": false, "zero": false},
                  "axis": {"orient": "left", "values": [-1, -0.5, 0, 0.5], "title": "Dz (cm)", "titleX": -132, "titleY": 281.5, "titleBaseline": "alphabetic", "titleAlign": "center", "titleAngle": -90}},
                "y2": {"field": "hi"},
                "detail": {"field": "g"}
              }
            },
            {
              "data": {"name": "lines"},
              "transform": [{"filter": "datum.p === 'Dz'"}],
              "mark": "line",
              "encoding": {
                "x": {"field": "x", "type": "quantitative", "scale": {"domain": [1, 101], "nice": false, "zero": false},
                  "axis": {"orient": "top", "values": [20, 40, 60, 80, 100], "labels": false, "title": null, "grid": false}},
                "y": {"field": "y", "type": "quantitative", "scale": {"domain": [-1.045, 0.537], "nice": false, "zero": false},
                  "axis": {"orient": "right", "values": [-1, -0.5, 0, 0.5], "labels": false, "title": null, "grid": false}},
                "color": {"field": "g", "type": "nominal", "scale": {"domain": ["F-AFO", "L-AFO", "H2-AFO"], "range": ["#0072BD", "#EE5A1E", "#F2AE1C"]}, "legend": null}
              }
            }
          ]
        }
      ]
    }
  ]
}
